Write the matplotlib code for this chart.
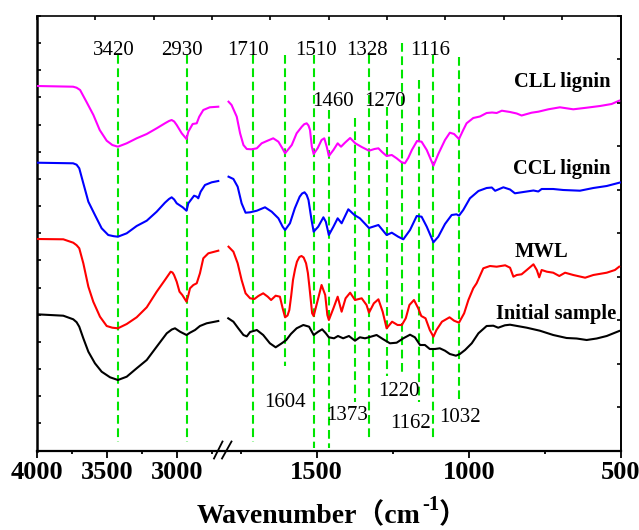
import numpy as np
import matplotlib
matplotlib.use('Agg')
import matplotlib.pyplot as plt
from matplotlib.lines import Line2D

# ---------------- data (wavenumber, cm-1 / transmittance, a.u.) ----------------
cll_left_w = [4000, 3740, 3715, 3690, 3645, 3595, 3550, 3500, 3460, 3420, 3357, 3286, 3214, 3143, 3084,
              3055, 3036, 3018, 3000, 2964, 2930, 2917, 2886, 2857, 2839, 2810, 2764, 2703]
cll_left_y = [364, 363.3, 362.3, 360, 348.3, 335, 320, 309.3, 305, 303.3, 306.7, 311.7, 316, 321.7, 326.7,
              329, 330, 328.5, 325, 316.7, 311, 318.3, 326, 326.7, 333.3, 340, 342.7, 343.3]
cll_right_w = [1790, 1780, 1763, 1752, 1741, 1730, 1714, 1697, 1681, 1664, 1643, 1626, 1613, 1604,
               1582, 1566, 1549, 1541, 1533, 1527, 1522, 1516, 1510, 1497, 1484, 1475, 1467, 1460,
               1445, 1431, 1420, 1407, 1390, 1373, 1352, 1328, 1310, 1297, 1285, 1270, 1253, 1237,
               1222, 1210, 1199, 1187, 1170, 1155, 1138, 1116, 1100, 1078, 1062, 1048, 1032, 1018,
               1007, 985, 963, 941, 923, 908, 891, 864, 842, 826, 793, 771, 738, 700, 656, 612, 568,
               530, 505]
cll_right_y = [348.3, 345, 333.3, 316.7, 305, 301, 300.7, 301.7, 306.7, 309, 311.7, 308.3, 301.7, 296.7,
               305, 316.7, 323.3, 325.8, 326.7, 324.5, 320, 303.3, 296, 301.7, 310, 311.7, 303.3, 294,
               300, 306.7, 303.3, 307.3, 312, 306.7, 303, 299.3, 301, 301.7, 298, 294, 295, 291.7,
               288, 286.7, 292, 300, 309, 308.3, 300, 284.3, 296, 310, 317.3, 316, 311, 320,
               326.7, 332, 333.5, 337, 337.5, 337, 339.3, 338, 336.5, 334.5, 337.3, 338.3, 340.7, 342.7,
               340.7, 342.3, 344, 346, 349.3]

ccl_left_w = [4000, 3740, 3715, 3696, 3667, 3631, 3584, 3536, 3489, 3450, 3420, 3357, 3286, 3214, 3143,
              3084, 3055, 3036, 3018, 3000, 2957, 2930, 2917, 2876, 2857, 2846, 2829, 2798, 2750, 2703]
ccl_left_y = [287.3, 286.7, 285.3, 281.7, 266.7, 248.3, 235, 221.7, 215, 213.8, 213.3, 216.7, 224, 229.3,
              238.3, 247.3, 251, 252.7, 250.5, 246.7, 242.7, 239.3, 246.7, 254.3, 253.3, 251.7, 258.3,
              265, 267.7, 269]
ccl_right_w = [1790, 1774, 1760, 1747, 1734, 1719, 1697, 1670, 1648, 1626, 1612, 1604, 1588, 1572,
               1556, 1548, 1540, 1533, 1527, 1517, 1510, 1495, 1478, 1470, 1460, 1445, 1431, 1418,
               1405, 1396, 1376, 1358, 1328, 1297, 1270, 1253, 1232, 1215, 1193, 1171, 1155, 1138,
               1116, 1100, 1078, 1056, 1040, 1032, 1018, 996, 968, 941, 924, 913, 886, 864, 848, 820,
               787, 771, 760, 722, 689, 634, 590, 546, 502]
ccl_right_y = [273.3, 271, 263.3, 246.7, 237.3, 237.7, 239.3, 242.7, 238.3, 231.7, 223.3, 220, 226.7, 241.7,
               253.3, 256.5, 257.7, 255, 250, 230, 218.3, 223.3, 232.7, 228.3, 215, 223.3, 231.7, 226.7,
               235, 240.7, 235, 231.7, 222, 225, 215, 217.3, 213.3, 210.7, 220, 234, 233.3, 223.3,
               207.7, 213.3, 226, 235, 235.7, 234.3, 240, 251.7, 259, 262, 262.5, 259.2, 262.7, 260.5,
               256.7, 258, 259.5, 258.5, 261, 261, 260, 259.3, 262, 264, 267.5]

mwl_left_w = [4000, 3810, 3739, 3715, 3696, 3667, 3631, 3596, 3548, 3500, 3460, 3420, 3357, 3286, 3214,
              3143, 3084, 3043, 3030, 3019, 3000, 2980, 2960, 2930, 2918, 2905, 2881, 2857, 2834, 2810,
              2774, 2703]
mwl_left_y = [211, 210.7, 207.3, 204.8, 201.7, 186.7, 163.3, 148.3, 133.3, 124, 122.3, 121.7, 126, 132.7,
              142.7, 158.3, 170, 178.3, 177.5, 175, 168.3, 158.3, 155, 148.3, 154, 161.7, 165, 166.7,
              176.7, 191.7, 196.7, 199.3]
mwl_right_w = [1790, 1774, 1760, 1747, 1734, 1719, 1705, 1692, 1676, 1661, 1650, 1635, 1621, 1612,
               1604, 1596, 1590, 1584, 1578, 1571, 1565, 1557, 1550, 1543, 1535, 1529, 1524, 1515,
               1510, 1495, 1484, 1472, 1465, 1460, 1445, 1431, 1418, 1405, 1390, 1374, 1352, 1336,
               1328, 1312, 1297, 1283, 1270, 1252, 1234, 1220, 1207, 1195, 1180, 1166, 1156, 1142,
               1128, 1116, 1106, 1088, 1063, 1048, 1032, 1015, 1001, 985, 974, 952, 930, 908, 880,
               864, 853, 842, 826, 809, 787, 776, 768, 760, 743, 722, 702, 683, 656, 617, 590, 546,
               519, 505]
mwl_right_y = [203.3, 198.3, 186.7, 170, 156.7, 151.7, 151, 154, 156.7, 153.3, 150, 154.3, 153.3, 141.7,
               132.7, 134.5, 140, 154, 170, 181, 188.3, 193, 194, 192.5, 186.7, 177, 163.3, 136.7,
               134, 151.7, 165, 155, 135, 130, 141.7, 153.3, 138.3, 151.7, 157.3, 150, 151.7, 145,
               137.3, 146.7, 150.7, 138.3, 121.7, 128.3, 125, 125, 131.7, 145, 150, 141.7, 134, 131.7,
               120, 113.3, 120, 128.3, 132.7, 129.3, 127.3, 136.7, 150, 161.7, 166.7, 181.7, 184, 183.3,
               184.7, 182.3, 173.3, 175, 175.7, 180, 185.7, 180, 172.7, 180, 178.3, 177.3, 174, 177.3,
               175, 172.3, 175, 177.3, 180, 183.3]

ini_left_w = [4000, 3810, 3739, 3715, 3696, 3667, 3631, 3584, 3536, 3476, 3420, 3357, 3286, 3214, 3143,
              3071, 3035, 3012, 2976, 2930, 2905, 2869, 2834, 2786, 2703]
ini_left_y = [135.7, 134.3, 130.7, 127.8, 123.3, 111.7, 98.3, 86.7, 78.3, 72.7, 70, 73.3, 81.7, 90, 103.3,
              116.7, 120.5, 121.7, 118.3, 115, 117.3, 120, 124, 126.7, 129]
ini_right_w = [1791, 1774, 1758, 1741, 1730, 1719, 1697, 1676, 1654, 1635, 1615, 1600, 1585, 1566,
               1544, 1525, 1516, 1510, 1495, 1482, 1470, 1460, 1443, 1430, 1413, 1394, 1374, 1358,
               1341, 1322, 1303, 1281, 1259, 1237, 1215, 1193, 1177, 1160, 1144, 1128, 1111, 1095,
               1078, 1062, 1042, 1029, 1012, 990, 968, 941, 919, 903, 881, 864, 809, 766, 722, 678,
               645, 612, 579, 546, 505]
ini_right_y = [131.7, 128.3, 121.7, 115, 113.6, 118, 120, 115, 106.7, 102.7, 106.7, 110, 116, 121.7,
               125, 123.3, 118.3, 115, 118.3, 120.7, 116.7, 112.7, 111.7, 114, 111.7, 114, 109.3, 112.7,
               111.7, 113.3, 115, 110.7, 106.7, 107.3, 111.7, 115.3, 112.7, 105, 105, 101, 101, 101.7,
               99.3, 96, 94.3, 96, 100, 106.7, 116.7, 124, 124.3, 122.3, 124.7, 125.3, 122.3, 119.3,
               115, 112, 111.5, 110, 111.5, 114, 119]

peak_wn = [3420, 2930, 1710, 1604, 1510, 1460, 1373, 1328, 1270, 1220, 1162, 1116, 1032]
peak_labels = ['3420', '2930', '1710', '1604', '1510', '1460', '1373', '1328', '1270', '1220',
               '1162', '1116', '1032']
sample_names = ['CLL lignin', 'CCL lignin', 'MWL', 'Initial sample']
x_major = [4000, 3500, 3000, 1500, 1000, 500]
x_minor = [3750, 3250, 2750, 1750, 1250, 750]
x_label = 'Wavenumber（cm'

# ---------------- layout ----------------
W, H = 639, 530
fig = plt.figure(figsize=(W / 100, H / 100), dpi=100)
AX_L, AX_R, AX_T, AX_B = 36.7, 620.7, 16, 450.5
ax = fig.add_axes([AX_L / W, 1 - AX_B / H, (AX_R - AX_L) / W, (AX_B - AX_T) / H])

BRK_W = [500, 1800, 2700, 4000]
BRK_U = [0, 395.2, 402, 584]


def fwd(w):
    return np.interp(w, BRK_W, BRK_U)


def inv(u):
    return np.interp(u, BRK_U, BRK_W)


ax.set_xscale('function', functions=(fwd, inv))
ax.set_xlim(4000, 500)
ax.set_ylim(-0.5, 434)

serif = ['Liberation Serif', 'DejaVu Serif']
cjk = ['Liberation Serif', 'Noto Sans CJK SC', 'DejaVu Serif']

curves = [
    (cll_left_w, cll_left_y, cll_right_w, cll_right_y, '#ff00ff'),
    (ccl_left_w, ccl_left_y, ccl_right_w, ccl_right_y, '#0000ff'),
    (mwl_left_w, mwl_left_y, mwl_right_w, mwl_right_y, '#ff0000'),
    (ini_left_w, ini_left_y, ini_right_w, ini_right_y, '#000000'),
]
for lw_, ly_, rw_, ry_, col in curves:
    ax.plot(lw_, ly_, color=col, lw=1.5, solid_joinstyle='round', zorder=3)
    ax.plot(rw_, ry_, color=col, lw=1.5, solid_joinstyle='round', zorder=3)

# dashed marker lines: (top, bottom) in pixel rows converted to a.u.
line_top_px = [55, 55, 55, 55, 55, 110, 118, 55, 107, 43, 80, 55, 57]
line_bot_px = [442, 442, 442, 366, 448, 448, 402, 440, 376, 373, 402, 438, 399]
for w, tp, bp in zip(peak_wn, line_top_px, line_bot_px):
    ax.plot([w, w], [AX_B - tp, AX_B - bp], color='#00e600', lw=1.5,
            linestyle=(0, (4.2, 2.2)), zorder=2)

# peak labels (pixel center x, baseline y)
lab_pos = [(114, 55), (182, 55), (248, 55), (285, 407), (315.5, 55), (333, 106.5), (347, 420.5),
           (366.7, 55), (385, 106.5), (399, 395.5), (411, 427.5), (430, 55), (459.5, 421.5)]
for s, (px, py) in zip(peak_labels, lab_pos):
    fig.text(px / W, 1 - py / H, s, ha='center', va='baseline', fontsize=15, family=serif)

# sample names
name_pos = [(514.3, 87.3), (513.3, 174), (515, 256.7), (496, 319.3)]
for s, (px, py) in zip(sample_names, name_pos):
    fig.text(px / W, 1 - py / H, s, ha='left', va='baseline', fontsize=14.8,
             fontweight='bold', family=serif)

# ticks
ax.set_xticks(x_major)
ax.set_xticklabels([str(v) for v in x_major], fontsize=19, fontweight='bold', family=serif)
ax.set_xticks(x_minor, minor=True)
ax.tick_params(axis='x', which='major', direction='out', length=5, width=1.3, pad=2.5,
               top=False, bottom=True)
ax.tick_params(axis='x', which='minor', direction='out', length=2.5, width=1.3,
               top=False, bottom=True)
ax.set_yticks(np.linspace(-0.5, 434, 17))
ax.tick_params(axis='y', which='both', direction='in', length=2.6, width=1.2, left=True,
               right=False, labelleft=False)
ax.yaxis.set_minor_locator(matplotlib.ticker.NullLocator())

for side, lw in (('left', 1.8), ('bottom', 1.6), ('top', 1.2), ('right', 1.4)):
    ax.spines[side].set_linewidth(lw)

axr = ax.twinx()
axr.set_ylim(0, 10)
axr.set_yticks(range(11))
axr.tick_params(axis='y', direction='in', length=2.6, width=1.2, labelright=False, right=True)
for sp in axr.spines.values():
    sp.set_visible(False)

axt = ax.twiny()
axt.set_xlim(0, 10)
axt.set_xticks(range(11))
axt.tick_params(axis='x', direction='in', length=2.6, width=1.2, labeltop=False, top=True,
                bottom=False)
for sp in axt.spines.values():
    sp.set_visible(False)

# axis break mark
fig.add_artist(Line2D([214 / W, 222.5 / W], [1 - 458.5 / H, 1 - 441.5 / H], color='black', lw=1.3))
fig.add_artist(Line2D([222 / W, 231.5 / W], [1 - 458.5 / H, 1 - 441.5 / H], color='black', lw=1.3))

# x label built from pieces
fig.canvas.draw()
r = fig.canvas.get_renderer()
t1 = fig.text(197 / W, 1 - 523 / H, x_label, ha='left', va='baseline', fontsize=20,
              fontweight='bold', family=cjk)
bb = t1.get_window_extent(renderer=r)
t2 = fig.text(bb.x1 / W + 1 / W, 1 - 510 / H, '-1', ha='left', va='baseline', fontsize=15,
              fontweight='bold', family=serif)
bb2 = t2.get_window_extent(renderer=r)
fig.text(bb2.x1 / W, 1 - 523 / H, '）', ha='left', va='baseline', fontsize=20,
         fontweight='bold', family=cjk)

fig.savefig('out.png', dpi=100)
